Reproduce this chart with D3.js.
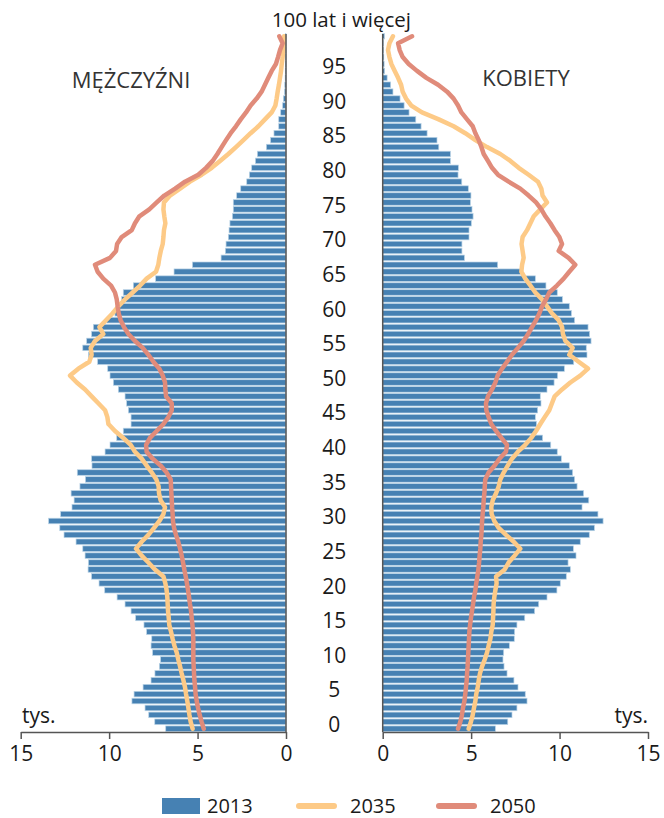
<!DOCTYPE html>
<html>
<head>
  <meta charset="utf-8">
  <title>Piramida wieku</title>
  <script src="https://d3js.org/d3.v7.min.js"></script>
  <style>
    body { margin: 0; background: #fff; }
    text { font-family: "Open Sans", sans-serif; fill: #1a1a1a; }
  </style>
</head>
<body>
  <svg id="pyramid"></svg>
  <script>
    // Ages 0..100 (100 = "100 lat i więcej")
    const ages = d3.range(0, 101);

    // Population in thousands, 2013 (bars)
    const men2013 = [
      6.80, 7.42, 7.76, 7.97, 8.71, 8.59, 8.08, 7.63, 7.41, 7.16,
      7.09, 7.54, 7.63, 7.59, 7.88, 8.03, 8.50, 8.76, 9.10, 9.55,
      10.25, 10.57, 10.99, 11.19, 11.17, 11.36, 11.49, 11.87, 12.55, 12.79,
      13.42, 12.74, 12.10, 11.98, 12.15, 11.65, 11.34, 11.80, 10.97, 10.99,
      10.23, 9.95, 9.57, 9.20, 8.76, 8.76, 8.91, 9.01, 9.10, 9.48,
      9.76, 9.95, 10.08, 10.65, 11.17, 11.49, 11.27, 10.99, 10.89, 10.14,
      9.67, 9.48, 9.29, 9.20, 8.63, 7.37, 6.33, 5.29, 3.67, 3.43,
      3.39, 3.26, 3.22, 3.17, 3.03, 2.98, 2.98, 2.79, 2.56, 2.22,
      2.07, 1.94, 1.73, 1.62, 1.11, 0.87, 0.68, 0.41, 0.41, 0.30,
      0.19, 0.15, 0.09, 0.07, 0.05, 0.04, 0.03, 0.02, 0.01, 0.01,
      0.02
    ];
    const women2013 = [
      6.37, 7.07, 7.31, 7.59, 8.16, 8.06, 7.65, 7.42, 7.03, 6.86,
      6.80, 6.84, 7.16, 7.44, 7.46, 7.59, 8.03, 8.59, 8.82, 9.29,
      9.85, 10.04, 10.38, 10.61, 10.48, 10.93, 10.78, 11.17, 11.68, 11.97,
      12.46, 12.17, 11.27, 11.65, 11.36, 10.99, 10.85, 10.74, 10.55, 10.10,
      9.87, 9.50, 9.04, 8.67, 8.69, 8.63, 8.76, 8.95, 8.91, 9.29,
      9.69, 9.89, 10.27, 10.80, 11.55, 11.51, 11.78, 11.70, 11.61, 10.85,
      10.67, 10.55, 10.16, 9.87, 9.23, 8.63, 7.78, 6.50, 4.62, 4.48,
      4.48, 4.88, 4.88, 5.01, 5.11, 5.05, 4.96, 4.99, 4.84, 4.47,
      4.26, 4.28, 3.83, 3.83, 3.17, 3.07, 2.51, 2.17, 1.87, 1.49,
      1.21, 0.98, 0.58, 0.45, 0.25, 0.11, 0.08, 0.06, 0.04, 0.03,
      0.10
    ];

    // Projections 2035 (lines)
    const men2035 = [
      5.28, 5.39, 5.46, 5.52, 5.58, 5.65, 5.71, 5.80, 5.90, 5.99,
      6.09, 6.18, 6.31, 6.41, 6.50, 6.60, 6.63, 6.67, 6.69, 6.71,
      6.75, 6.82, 6.93, 7.41, 7.78, 8.16, 8.48, 8.16, 7.78, 7.46,
      7.16, 6.93, 6.84, 7.09, 7.18, 7.20, 7.33, 7.59, 7.88, 8.16,
      8.54, 8.78, 9.20, 9.67, 10.04, 10.10, 10.23, 10.61, 10.99, 11.36,
      11.83, 12.21, 11.74, 11.12, 10.99, 11.04, 10.80, 10.33, 10.55, 10.18,
      9.80, 9.48, 9.10, 8.67, 8.25, 7.88, 7.35, 7.22, 7.16, 7.08,
      6.97, 6.93, 6.90, 6.82, 6.88, 6.93, 6.90, 6.56, 5.99, 5.43,
      4.77, 4.20, 3.73, 3.26, 2.83, 2.41, 2.00, 1.56, 1.19, 0.81,
      0.60, 0.53, 0.47, 0.40, 0.34, 0.28, 0.24, 0.19, 0.15, 0.13,
      0.11
    ];
    const women2035 = [
      4.86, 4.99, 5.09, 5.16, 5.24, 5.29, 5.37, 5.43, 5.50, 5.62,
      5.77, 5.90, 5.99, 6.09, 6.14, 6.22, 6.24, 6.26, 6.27, 6.31,
      6.37, 6.44, 6.41, 6.90, 7.12, 7.46, 7.78, 7.41, 6.97, 6.56,
      6.31, 6.16, 6.14, 6.22, 6.41, 6.56, 6.65, 6.84, 7.07, 7.31,
      7.65, 8.06, 8.40, 8.67, 8.91, 9.16, 9.42, 9.57, 9.72, 10.14,
      10.61, 11.17, 11.61, 11.08, 10.55, 10.74, 10.33, 10.19, 10.14, 9.95,
      9.57, 9.29, 9.01, 8.63, 8.35, 8.06, 7.84, 7.88, 7.97, 7.91,
      7.85, 7.91, 8.16, 8.35, 8.54, 8.91, 9.29, 9.04, 8.97, 8.78,
      8.25, 7.69, 7.22, 6.65, 5.90, 5.24, 4.67, 4.01, 3.17, 2.22,
      1.62, 1.32, 1.13, 1.04, 0.87, 0.68, 0.49, 0.38, 0.30, 0.38,
      0.58
    ];

    // Projections 2050 (lines)
    const men2050 = [
      4.65, 4.77, 4.88, 4.97, 5.05, 5.11, 5.14, 5.18, 5.20, 5.22,
      5.24, 5.24, 5.24, 5.24, 5.26, 5.29, 5.33, 5.37, 5.43, 5.48,
      5.54, 5.60, 5.67, 5.75, 5.82, 5.90, 5.99, 6.09, 6.22, 6.33,
      6.39, 6.41, 6.44, 6.46, 6.48, 6.50, 6.52, 6.75, 7.09, 7.54,
      7.88, 7.91, 7.69, 7.31, 6.93, 6.65, 6.46, 6.46, 6.78, 6.82,
      6.84, 6.97, 7.16, 7.50, 7.78, 8.10, 8.54, 8.91, 9.16, 9.35,
      9.46, 9.52, 9.57, 9.67, 9.89, 10.33, 10.65, 10.80, 9.95, 9.61,
      9.55, 9.29, 8.72, 8.54, 8.29, 7.73, 7.31, 6.88, 6.27, 5.71,
      4.96, 4.52, 4.15, 3.88, 3.64, 3.39, 3.13, 2.83, 2.56, 2.26,
      2.00, 1.66, 1.38, 1.19, 1.00, 0.81, 0.57, 0.45, 0.34, 0.19,
      0.38
    ];
    const women2050 = [
      4.26, 4.39, 4.48, 4.54, 4.62, 4.67, 4.71, 4.75, 4.77, 4.80,
      4.82, 4.84, 4.86, 4.88, 4.90, 4.94, 4.99, 5.05, 5.11, 5.16,
      5.24, 5.29, 5.35, 5.41, 5.45, 5.48, 5.52, 5.54, 5.58, 5.60,
      5.62, 5.65, 5.69, 5.71, 5.75, 5.77, 5.80, 5.99, 6.33, 6.60,
      6.97, 7.03, 6.71, 6.41, 6.14, 5.99, 5.86, 5.84, 5.95, 6.18,
      6.37, 6.50, 6.75, 7.03, 7.31, 7.65, 7.97, 8.22, 8.44, 8.67,
      8.86, 9.01, 9.23, 9.42, 9.85, 10.23, 10.55, 10.89, 10.51, 9.95,
      10.14, 9.99, 9.72, 9.48, 9.20, 8.97, 8.67, 8.25, 7.78, 7.12,
      6.52, 6.18, 5.95, 5.71, 5.58, 5.43, 5.24, 5.09, 4.77, 4.45,
      4.26, 4.01, 3.64, 3.13, 2.47, 1.94, 1.47, 1.13, 0.96, 0.87,
      1.66
    ];

    // Tick labels
    const ageTicks = d3.range(0, 100, 5);
    const topLabel = "100 lat i więcej";
    const valueTicks = [0, 5, 10, 15];
    const legendItems = ["2013", "2035", "2050"];

    const colors = { bar: "#4681b3", barEdge: "#b9d3e6", y2035: "#fdca87", y2050: "#e08b7a" };

    const width = 664, height = 818;

    const svg = d3.select("#pyramid")
      .attr("width", width)
      .attr("height", height);

    // Scales
    const y = d3.scaleBand()
      .domain(ages)
      .range([731.5, 33.5])
      .paddingInner(0.2);

    const xLeft = d3.scaleLinear().domain([0, 15]).range([286, 20.7]);
    const xRight = d3.scaleLinear().domain([0, 15]).range([382.7, 648]);

    const yc = a => y(a) + y.bandwidth() / 2;

    // Bars for men (left) and women (right)
    svg.append("g")
      .selectAll("rect")
      .data(ages)
      .join("rect")
      .attr("x", a => xLeft(men2013[a]))
      .attr("y", a => y(a))
      .attr("width", a => xLeft(0) - xLeft(men2013[a]))
      .attr("height", y.bandwidth())
      .attr("fill", colors.bar)
      .attr("stroke", colors.barEdge)
      .attr("stroke-width", 0.7);

    svg.append("g")
      .selectAll("rect")
      .data(ages)
      .join("rect")
      .attr("x", xRight(0))
      .attr("y", a => y(a))
      .attr("width", a => xRight(women2013[a]) - xRight(0))
      .attr("height", y.bandwidth())
      .attr("fill", colors.bar)
      .attr("stroke", colors.barEdge)
      .attr("stroke-width", 0.7);

    // Projection lines
    function drawLine(values, xs, color) {
      const line = d3.line()
        .x(a => xs(values[a]))
        .y(a => yc(a));
      svg.append("path")
        .datum(ages)
        .attr("d", line)
        .attr("fill", "none")
        .attr("stroke", color)
        .attr("stroke-width", 4.5)
        .attr("stroke-linejoin", "round")
        .attr("stroke-linecap", "round");
    }
    drawLine(men2035, xLeft, colors.y2035);
    drawLine(women2035, xRight, colors.y2035);
    drawLine(men2050, xLeft, colors.y2050);
    drawLine(women2050, xRight, colors.y2050);

    // Vertical zero lines
    [xLeft(0), xRight(0)].forEach(x0 => {
      svg.append("line")
        .attr("x1", x0).attr("x2", x0)
        .attr("y1", 34).attr("y2", 732)
        .attr("stroke", "#555")
        .attr("stroke-width", 1.5);
    });

    // Bottom axes
    function styleAxis(g) {
      g.select(".domain").attr("stroke", "#555").attr("stroke-width", 1.5);
      g.selectAll(".tick line").attr("stroke", "#555").attr("stroke-width", 1.5);
      g.selectAll(".tick text")
        .style("font-family", "Open Sans, sans-serif")
        .style("font-size", "21px")
        .attr("fill", "#1a1a1a")
        .attr("dy", "0.9em");
    }
    svg.append("g")
      .attr("transform", "translate(0,732)")
      .call(d3.axisBottom(xLeft).tickValues(valueTicks).tickSize(7).tickSizeOuter(0))
      .call(styleAxis);
    svg.append("g")
      .attr("transform", "translate(0,732)")
      .call(d3.axisBottom(xRight).tickValues(valueTicks).tickSize(7).tickSizeOuter(0))
      .call(styleAxis);

    // Age labels in the middle
    const midX = (xLeft(0) + xRight(0)) / 2;
    svg.append("g")
      .selectAll("text")
      .data(ageTicks)
      .join("text")
      .attr("x", midX)
      .attr("y", a => yc(a) - 4)
      .attr("dy", "0.35em")
      .attr("text-anchor", "middle")
      .style("font-size", "21px")
      .text(d => d);

    svg.append("text")
      .attr("x", midX + 7)
      .attr("y", 20)
      .attr("dy", "0.35em")
      .attr("text-anchor", "middle")
      .style("font-size", "20.5px")
      .text(topLabel);

    // Panel titles
    svg.append("text")
      .attr("x", 131).attr("y", 80)
      .attr("dy", "0.35em")
      .attr("text-anchor", "middle")
      .style("font-size", "22px")
      .style("fill", "#333")
      .text("MĘŻCZYŹNI");

    svg.append("text")
      .attr("x", 526).attr("y", 78)
      .attr("dy", "0.35em")
      .attr("text-anchor", "middle")
      .style("font-size", "22px")
      .style("fill", "#333")
      .text("KOBIETY");

    // Units
    svg.append("text")
      .attr("x", 22).attr("y", 716)
      .attr("dy", "0.35em")
      .style("font-size", "21px")
      .text("tys.");
    svg.append("text")
      .attr("x", 648).attr("y", 716)
      .attr("dy", "0.35em")
      .attr("text-anchor", "end")
      .style("font-size", "21px")
      .text("tys.");

    // Legend
    const legendX = [162, 297, 437];
    const legend = svg.append("g")
      .selectAll("g")
      .data(legendItems)
      .join("g")
      .attr("transform", (d, i) => `translate(${legendX[i]},805)`);

    legend.filter(d => d === "2013")
      .append("rect")
      .attr("x", 0).attr("y", -7)
      .attr("width", 38).attr("height", 16)
      .attr("fill", colors.bar);

    legend.filter(d => d !== "2013")
      .append("line")
      .attr("x1", 2).attr("x2", 37)
      .attr("y1", 1).attr("y2", 1)
      .attr("stroke", d => d === "2035" ? colors.y2035 : colors.y2050)
      .attr("stroke-width", 6)
      .attr("stroke-linecap", "round");

    legend.append("text")
      .attr("x", (d, i) => i === 0 ? 45 : 53)
      .attr("y", 1)
      .attr("dy", "0.35em")
      .style("font-size", "20px")
      .text(d => d);
  </script>
</body>
</html>
